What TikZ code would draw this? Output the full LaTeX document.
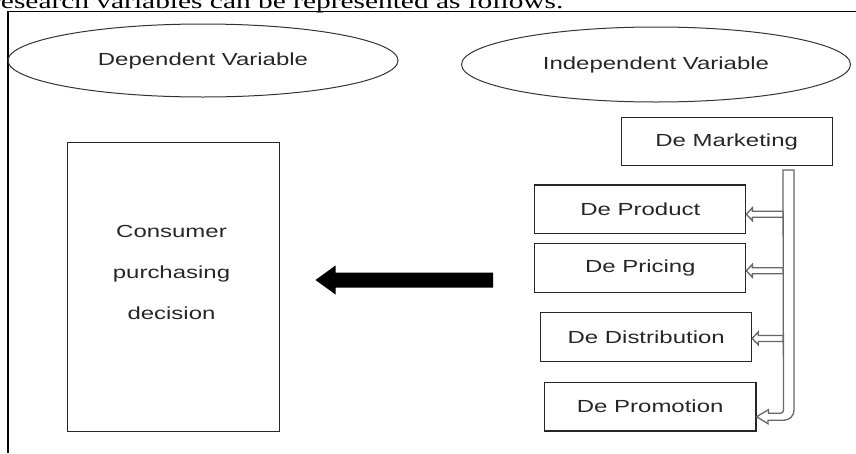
\documentclass[tikz,border=0pt]{standalone}
\usepackage{fontspec}
\newfontfamily\arialx[FakeStretch=1.37]{Liberation Sans}
\newfontfamily\timesx[FakeStretch=1.4]{Liberation Serif}
\usetikzlibrary{calc,shapes.geometric}
\begin{document}
\begin{tikzpicture}[x=1pt,y=-1pt,
  txt/.style={font=\arialx\fontsize{17.5}{21}\selectfont, text=black!85},
  box/.style={draw=black!85, line width=1.1pt, inner sep=0pt, txt},
  oval/.style={ellipse, draw=black!80, line width=1pt, inner sep=0pt, txt},
  hollow/.style={draw=black!60, line width=1.3pt, fill=white, line join=miter}]
\useasboundingbox (0,0) rectangle (856,453);
\clip (0,0) rectangle (856,453);
\node[anchor=base west, inner sep=0pt, font=\timesx\fontsize{21}{25}\selectfont] (caption) at (-9,8.3) {research variables can be represented as follows.};
\draw[line width=1.2pt] (856,11.7) -- (8,11.7) -- (8,453);
% ellipses
\node[oval, minimum width=390pt, minimum height=73pt] (dep) at (203,60.5) {\raisebox{-2pt}{Dependent Variable}};
\node[oval, minimum width=389pt, minimum height=75pt] (indep) at (656,64.5) {Independent Variable};
% boxes
\node[box, minimum width=211pt, minimum height=48.5pt] (mkt) at (726.7,141.5) {De Marketing};
\node[box, minimum width=211pt, minimum height=48.5pt] (prod) at (640.3,209.2) {De Product};
\node[box, minimum width=211pt, minimum height=49pt] (price) at (640.3,267.8) {De Pricing};
\node[box, minimum width=211pt, minimum height=48.5pt] (dist) at (646.2,336.9) {De Distribution};
\node[box, minimum width=211.5pt, minimum height=48.5pt] (promo) at (650.2,406.7) {De Promotion};
\node[box, minimum width=211.5pt, minimum height=289pt] (cons) at (173.5,287.2) {};
\node[txt, align=center, inner sep=0pt, font=\arialx\fontsize{17.5}{41}\selectfont] (constext) at ($(cons.center)+(-2,-15)$) {Consumer\\purchasing\\decision};
% big arrow
\coordinate (bigtip) at ($(cons.east)+(35.7,-7.2)$);
\fill[black] (bigtip) -- ++(20,-14.5) -- ++(0,7) -- ++(157.7,0) -- ++(0,15) -- ++(-157.7,0) -- ++(0,7) -- cycle;
% hollow connector
\coordinate (barL) at (783,170);
\coordinate (tip5) at ($(promo.east)+(0,10)$);
\draw[hollow] (tip5) -- ++(12,-7) -- ++(0,3.5) -- ++(12,0) arc[start angle=90,end angle=0,radius=3] -- (783,170) -- (794,170) -- (794,410.2) arc[start angle=0,end angle=90,radius=10] -- (768,420.2) -- (768,423.7) -- cycle;
\coordinate (tp1) at ($(prod.east)+(0,5)$);
\coordinate (tp2) at ($(price.east)+(0,3)$);
\coordinate (tp3) at ($(dist.east)+(0,1.5)$);
\foreach \t in {tp1,tp2,tp3}{
  \draw[hollow] (\t) -- ++(6,-6.5) -- ++(0,3.5) -- ($(\t -| barL)+(0,-3)$) -- ($(\t -| barL)+(0,3)$) -- ($(\t)+(6,3)$) -- ($(\t)+(6,6.5)$) -- cycle;
}
\end{tikzpicture}
\end{document}
